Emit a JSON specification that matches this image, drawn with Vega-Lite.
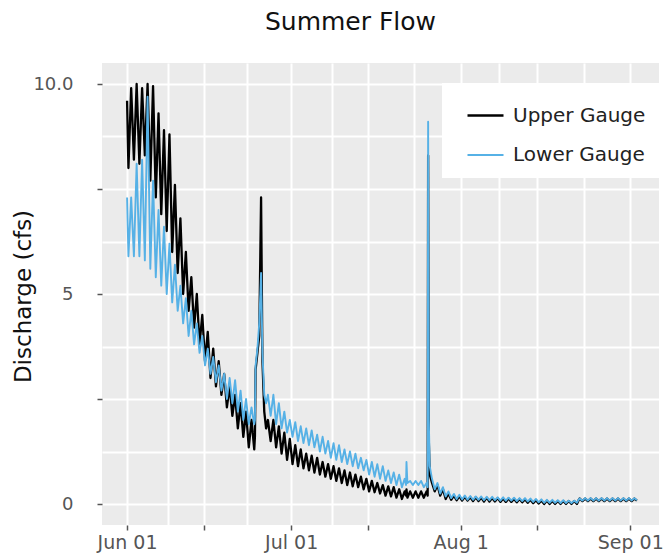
{
  "$schema": "https://vega.github.io/schema/vega-lite/v6.json",
  "width": 557,
  "height": 462,
  "autosize": {"type": "none"},
  "padding": {"left": 102, "top": 63, "right": 9, "bottom": 28},
  "background": "white",
  "config": {
    "view": {"fill": "#ebebeb", "stroke": null},
    "font": "DejaVu Sans"
  },
  "title": {
    "text": "Summer Flow",
    "fontSize": 25,
    "fontWeight": "normal",
    "color": "#111111",
    "anchor": "middle",
    "frame": "group",
    "dx": -30,
    "baseline": "alphabetic",
    "offset": 8
  },
  "data": {
    "values": [
      {"t": "2015-06-01T00:00", "u": 9.6, "l": 7.3},
      {"t": "2015-06-01T06:00", "u": 8.0, "l": 5.9},
      {"t": "2015-06-01T18:00", "u": 9.9, "l": 7.3},
      {"t": "2015-06-02T06:00", "u": 8.2, "l": 5.9},
      {"t": "2015-06-02T18:00", "u": 10.0, "l": 8.1},
      {"t": "2015-06-03T06:00", "u": 8.1, "l": 5.9},
      {"t": "2015-06-03T18:00", "u": 9.9, "l": 8.2},
      {"t": "2015-06-04T06:00", "u": 8.3, "l": 5.8},
      {"t": "2015-06-04T18:00", "u": 10.0, "l": 9.7},
      {"t": "2015-06-05T06:00", "u": 7.7, "l": 5.6},
      {"t": "2015-06-05T18:00", "u": 9.95, "l": 7.7},
      {"t": "2015-06-06T06:00", "u": 7.3, "l": 5.4},
      {"t": "2015-06-06T18:00", "u": 9.3, "l": 7.0},
      {"t": "2015-06-07T06:00", "u": 6.9, "l": 5.2},
      {"t": "2015-06-07T18:00", "u": 8.9, "l": 6.6},
      {"t": "2015-06-08T06:00", "u": 6.5, "l": 5.0},
      {"t": "2015-06-08T18:00", "u": 8.8, "l": 6.2},
      {"t": "2015-06-09T06:00", "u": 6.0, "l": 4.8},
      {"t": "2015-06-09T18:00", "u": 7.6, "l": 5.7},
      {"t": "2015-06-10T06:00", "u": 5.5, "l": 4.6},
      {"t": "2015-06-10T18:00", "u": 6.8, "l": 5.2},
      {"t": "2015-06-11T06:00", "u": 5.0, "l": 4.3},
      {"t": "2015-06-11T18:00", "u": 6.0, "l": 4.9},
      {"t": "2015-06-12T06:00", "u": 4.6, "l": 4.0},
      {"t": "2015-06-12T18:00", "u": 5.4, "l": 4.6},
      {"t": "2015-06-13T06:00", "u": 4.2, "l": 3.8},
      {"t": "2015-06-13T18:00", "u": 5.0, "l": 4.3},
      {"t": "2015-06-14T06:00", "u": 3.8, "l": 3.6},
      {"t": "2015-06-14T18:00", "u": 4.5, "l": 4.0},
      {"t": "2015-06-15T06:00", "u": 3.4, "l": 3.3},
      {"t": "2015-06-15T18:00", "u": 4.1, "l": 3.7},
      {"t": "2015-06-16T06:00", "u": 3.0, "l": 3.1},
      {"t": "2015-06-16T18:00", "u": 3.7, "l": 3.5},
      {"t": "2015-06-17T06:00", "u": 2.8, "l": 2.9},
      {"t": "2015-06-17T18:00", "u": 3.4, "l": 3.3},
      {"t": "2015-06-18T06:00", "u": 2.6, "l": 2.7},
      {"t": "2015-06-18T18:00", "u": 3.1, "l": 3.1},
      {"t": "2015-06-19T06:00", "u": 2.3, "l": 2.5},
      {"t": "2015-06-19T18:00", "u": 2.8, "l": 3.0},
      {"t": "2015-06-20T06:00", "u": 2.1, "l": 2.4},
      {"t": "2015-06-20T18:00", "u": 2.6, "l": 2.95},
      {"t": "2015-06-21T06:00", "u": 1.8, "l": 2.2},
      {"t": "2015-06-21T18:00", "u": 2.4, "l": 2.7},
      {"t": "2015-06-22T06:00", "u": 1.6, "l": 2.0},
      {"t": "2015-06-22T18:00", "u": 2.2, "l": 2.5},
      {"t": "2015-06-23T06:00", "u": 1.35, "l": 1.9},
      {"t": "2015-06-23T18:00", "u": 2.0, "l": 2.3},
      {"t": "2015-06-24T06:00", "u": 1.3, "l": 1.9},
      {"t": "2015-06-24T09:00", "u": 1.6, "l": 2.0},
      {"t": "2015-06-24T12:00", "u": 3.2, "l": 3.3},
      {"t": "2015-06-24T20:00", "u": 3.6, "l": 3.7},
      {"t": "2015-06-25T04:00", "u": 4.0, "l": 4.3},
      {"t": "2015-06-25T12:00", "u": 7.3, "l": 5.5},
      {"t": "2015-06-25T18:00", "u": 3.4, "l": 3.6},
      {"t": "2015-06-26T02:00", "u": 2.2, "l": 2.6},
      {"t": "2015-06-26T10:00", "u": 1.8, "l": 2.4},
      {"t": "2015-06-26T18:00", "u": 2.0, "l": 2.6},
      {"t": "2015-06-27T06:00", "u": 1.5, "l": 2.1},
      {"t": "2015-06-27T18:00", "u": 2.0, "l": 2.6},
      {"t": "2015-06-28T06:00", "u": 1.35, "l": 1.9},
      {"t": "2015-06-28T18:00", "u": 1.85, "l": 2.4},
      {"t": "2015-06-29T06:00", "u": 1.2, "l": 1.8},
      {"t": "2015-06-29T18:00", "u": 1.7, "l": 2.2},
      {"t": "2015-06-30T06:00", "u": 1.05, "l": 1.7},
      {"t": "2015-06-30T18:00", "u": 1.55, "l": 2.0},
      {"t": "2015-07-01T06:00", "u": 0.95, "l": 1.6},
      {"t": "2015-07-01T18:00", "u": 1.4, "l": 1.95},
      {"t": "2015-07-02T06:00", "u": 0.9, "l": 1.5},
      {"t": "2015-07-02T18:00", "u": 1.3, "l": 1.85},
      {"t": "2015-07-03T06:00", "u": 0.85, "l": 1.45},
      {"t": "2015-07-03T18:00", "u": 1.2, "l": 1.8},
      {"t": "2015-07-04T06:00", "u": 0.8, "l": 1.4},
      {"t": "2015-07-04T18:00", "u": 1.15, "l": 1.75},
      {"t": "2015-07-05T06:00", "u": 0.75, "l": 1.35},
      {"t": "2015-07-05T18:00", "u": 1.1, "l": 1.65},
      {"t": "2015-07-06T06:00", "u": 0.7, "l": 1.25},
      {"t": "2015-07-06T18:00", "u": 1.0, "l": 1.6},
      {"t": "2015-07-07T06:00", "u": 0.65, "l": 1.2},
      {"t": "2015-07-07T18:00", "u": 0.95, "l": 1.5},
      {"t": "2015-07-08T06:00", "u": 0.6, "l": 1.1},
      {"t": "2015-07-08T18:00", "u": 0.9, "l": 1.45},
      {"t": "2015-07-09T06:00", "u": 0.55, "l": 1.05},
      {"t": "2015-07-09T18:00", "u": 0.85, "l": 1.4},
      {"t": "2015-07-10T06:00", "u": 0.5, "l": 1.0},
      {"t": "2015-07-10T18:00", "u": 0.8, "l": 1.3},
      {"t": "2015-07-11T06:00", "u": 0.45, "l": 0.95},
      {"t": "2015-07-11T18:00", "u": 0.75, "l": 1.25},
      {"t": "2015-07-12T06:00", "u": 0.42, "l": 0.9},
      {"t": "2015-07-12T18:00", "u": 0.7, "l": 1.2},
      {"t": "2015-07-13T06:00", "u": 0.4, "l": 0.85},
      {"t": "2015-07-13T18:00", "u": 0.65, "l": 1.1},
      {"t": "2015-07-14T06:00", "u": 0.35, "l": 0.8},
      {"t": "2015-07-14T18:00", "u": 0.6, "l": 1.05},
      {"t": "2015-07-15T06:00", "u": 0.3, "l": 0.7},
      {"t": "2015-07-15T18:00", "u": 0.55, "l": 1.0},
      {"t": "2015-07-16T06:00", "u": 0.28, "l": 0.65},
      {"t": "2015-07-16T18:00", "u": 0.5, "l": 0.95},
      {"t": "2015-07-17T06:00", "u": 0.25, "l": 0.6},
      {"t": "2015-07-17T18:00", "u": 0.45, "l": 0.9},
      {"t": "2015-07-18T06:00", "u": 0.2, "l": 0.55},
      {"t": "2015-07-18T18:00", "u": 0.42, "l": 0.8},
      {"t": "2015-07-19T06:00", "u": 0.18, "l": 0.5},
      {"t": "2015-07-19T18:00", "u": 0.4, "l": 0.75},
      {"t": "2015-07-20T06:00", "u": 0.15, "l": 0.45},
      {"t": "2015-07-20T18:00", "u": 0.35, "l": 0.7},
      {"t": "2015-07-21T06:00", "u": 0.12, "l": 0.4},
      {"t": "2015-07-21T18:00", "u": 0.3, "l": 0.6},
      {"t": "2015-07-22T00:00", "u": 0.2, "l": 0.45},
      {"t": "2015-07-22T02:00", "u": 0.35, "l": 1.0},
      {"t": "2015-07-22T06:00", "u": 0.15, "l": 0.5},
      {"t": "2015-07-22T18:00", "u": 0.3, "l": 0.55},
      {"t": "2015-07-23T06:00", "u": 0.15, "l": 0.45},
      {"t": "2015-07-23T18:00", "u": 0.3, "l": 0.55},
      {"t": "2015-07-24T06:00", "u": 0.15, "l": 0.45},
      {"t": "2015-07-24T18:00", "u": 0.3, "l": 0.55},
      {"t": "2015-07-25T06:00", "u": 0.15, "l": 0.4},
      {"t": "2015-07-25T18:00", "u": 0.3, "l": 0.5},
      {"t": "2015-07-25T23:00", "u": 0.2, "l": 0.4},
      {"t": "2015-07-26T01:00", "u": 8.3, "l": 9.1},
      {"t": "2015-07-26T04:00", "u": 1.5, "l": 2.0},
      {"t": "2015-07-26T08:00", "u": 0.7, "l": 0.9},
      {"t": "2015-07-26T18:00", "u": 0.5, "l": 0.6},
      {"t": "2015-07-27T06:00", "u": 0.3, "l": 0.35},
      {"t": "2015-07-27T18:00", "u": 0.45, "l": 0.5},
      {"t": "2015-07-28T06:00", "u": 0.2, "l": 0.25},
      {"t": "2015-07-28T18:00", "u": 0.35, "l": 0.4},
      {"t": "2015-07-29T06:00", "u": 0.12, "l": 0.18},
      {"t": "2015-07-29T18:00", "u": 0.25, "l": 0.3},
      {"t": "2015-07-30T06:00", "u": 0.1, "l": 0.14},
      {"t": "2015-07-30T18:00", "u": 0.2, "l": 0.24},
      {"t": "2015-07-31T06:00", "u": 0.09, "l": 0.12},
      {"t": "2015-07-31T18:00", "u": 0.18, "l": 0.22},
      {"t": "2015-08-01T06:00", "u": 0.08, "l": 0.11},
      {"t": "2015-08-01T18:00", "u": 0.17, "l": 0.2},
      {"t": "2015-08-02T06:00", "u": 0.08, "l": 0.1},
      {"t": "2015-08-02T18:00", "u": 0.16, "l": 0.19},
      {"t": "2015-08-03T06:00", "u": 0.07, "l": 0.1},
      {"t": "2015-08-03T18:00", "u": 0.16, "l": 0.18},
      {"t": "2015-08-04T06:00", "u": 0.07, "l": 0.1},
      {"t": "2015-08-04T18:00", "u": 0.15, "l": 0.18},
      {"t": "2015-08-05T06:00", "u": 0.06, "l": 0.09},
      {"t": "2015-08-05T18:00", "u": 0.15, "l": 0.17},
      {"t": "2015-08-06T06:00", "u": 0.06, "l": 0.09},
      {"t": "2015-08-06T18:00", "u": 0.14, "l": 0.17},
      {"t": "2015-08-07T06:00", "u": 0.06, "l": 0.09},
      {"t": "2015-08-07T18:00", "u": 0.14, "l": 0.16},
      {"t": "2015-08-08T06:00", "u": 0.05, "l": 0.08},
      {"t": "2015-08-08T18:00", "u": 0.13, "l": 0.16},
      {"t": "2015-08-09T06:00", "u": 0.05, "l": 0.08},
      {"t": "2015-08-09T18:00", "u": 0.13, "l": 0.15},
      {"t": "2015-08-10T06:00", "u": 0.05, "l": 0.08},
      {"t": "2015-08-10T18:00", "u": 0.12, "l": 0.15},
      {"t": "2015-08-11T06:00", "u": 0.04, "l": 0.07},
      {"t": "2015-08-11T18:00", "u": 0.12, "l": 0.14},
      {"t": "2015-08-12T06:00", "u": 0.04, "l": 0.07},
      {"t": "2015-08-12T18:00", "u": 0.11, "l": 0.14},
      {"t": "2015-08-13T06:00", "u": 0.03, "l": 0.06},
      {"t": "2015-08-13T18:00", "u": 0.1, "l": 0.13},
      {"t": "2015-08-14T06:00", "u": 0.02, "l": 0.05},
      {"t": "2015-08-14T18:00", "u": 0.09, "l": 0.12},
      {"t": "2015-08-15T06:00", "u": 0.01, "l": 0.04},
      {"t": "2015-08-15T18:00", "u": 0.08, "l": 0.11},
      {"t": "2015-08-16T06:00", "u": 0.0, "l": 0.03},
      {"t": "2015-08-16T18:00", "u": 0.08, "l": 0.1},
      {"t": "2015-08-17T06:00", "u": 0.0, "l": 0.03},
      {"t": "2015-08-17T18:00", "u": 0.07, "l": 0.1},
      {"t": "2015-08-18T06:00", "u": 0.0, "l": 0.03},
      {"t": "2015-08-18T18:00", "u": 0.07, "l": 0.09},
      {"t": "2015-08-19T06:00", "u": 0.0, "l": 0.02},
      {"t": "2015-08-19T18:00", "u": 0.07, "l": 0.09},
      {"t": "2015-08-20T06:00", "u": 0.0, "l": 0.02},
      {"t": "2015-08-20T18:00", "u": 0.07, "l": 0.08},
      {"t": "2015-08-21T06:00", "u": 0.0, "l": 0.02},
      {"t": "2015-08-21T18:00", "u": 0.07, "l": 0.08},
      {"t": "2015-08-22T06:00", "u": 0.0, "l": 0.03},
      {"t": "2015-08-22T14:00", "u": 0.1, "l": 0.11},
      {"t": "2015-08-22T18:00", "u": 0.13, "l": 0.13},
      {"t": "2015-08-23T06:00", "u": 0.07, "l": 0.08},
      {"t": "2015-08-23T18:00", "u": 0.13, "l": 0.14},
      {"t": "2015-08-24T06:00", "u": 0.07, "l": 0.08},
      {"t": "2015-08-24T18:00", "u": 0.13, "l": 0.14},
      {"t": "2015-08-25T06:00", "u": 0.07, "l": 0.08},
      {"t": "2015-08-25T18:00", "u": 0.13, "l": 0.14},
      {"t": "2015-08-26T06:00", "u": 0.07, "l": 0.08},
      {"t": "2015-08-26T18:00", "u": 0.13, "l": 0.14},
      {"t": "2015-08-27T06:00", "u": 0.07, "l": 0.08},
      {"t": "2015-08-27T18:00", "u": 0.13, "l": 0.14},
      {"t": "2015-08-28T06:00", "u": 0.07, "l": 0.08},
      {"t": "2015-08-28T18:00", "u": 0.13, "l": 0.14},
      {"t": "2015-08-29T06:00", "u": 0.07, "l": 0.08},
      {"t": "2015-08-29T18:00", "u": 0.13, "l": 0.14},
      {"t": "2015-08-30T06:00", "u": 0.07, "l": 0.08},
      {"t": "2015-08-30T18:00", "u": 0.13, "l": 0.14},
      {"t": "2015-08-31T06:00", "u": 0.07, "l": 0.08},
      {"t": "2015-08-31T18:00", "u": 0.13, "l": 0.14},
      {"t": "2015-09-01T06:00", "u": 0.07, "l": 0.08},
      {"t": "2015-09-01T18:00", "u": 0.13, "l": 0.14},
      {"t": "2015-09-02T05:00", "u": 0.08, "l": 0.09}
    ]
  },
  "transform": [{"fold": ["u", "l"], "as": ["k", "q"]}],
  "mark": {"type": "line", "strokeJoin": "round"},
  "encoding": {
    "x": {
      "field": "t",
      "type": "temporal",
      "scale": {
        "domain": [
          {"year": 2015, "month": "May", "date": 27, "hours": 10},
          {"year": 2015, "month": "Sep", "date": 6, "hours": 6}
        ]
      },
      "axis": {
        "title": null,
        "values": [
          {"year": 2015, "month": "Jun", "date": 1},
          {"year": 2015, "month": "Jun", "date": 8, "hours": 12},
          {"year": 2015, "month": "Jun", "date": 15},
          {"year": 2015, "month": "Jun", "date": 23},
          {"year": 2015, "month": "Jul", "date": 1},
          {"year": 2015, "month": "Jul", "date": 8, "hours": 12},
          {"year": 2015, "month": "Jul", "date": 15},
          {"year": 2015, "month": "Jul", "date": 23, "hours": 12},
          {"year": 2015, "month": "Aug", "date": 1},
          {"year": 2015, "month": "Aug", "date": 8},
          {"year": 2015, "month": "Aug", "date": 15},
          {"year": 2015, "month": "Aug", "date": 23, "hours": 12},
          {"year": 2015, "month": "Sep", "date": 1}
        ],
        "labelExpr": "date(datum.value) == 1 ? (month(datum.value) == 7 ? 'Aug 1' : timeFormat(datum.value, '%b %d')) : ''",
        "labelOverlap": false,
        "labelFlush": false,
        "labelFontSize": 19,
        "labelColor": "#555555",
        "labelPadding": 3,
        "domain": false,
        "grid": true,
        "gridColor": "#ffffff",
        "gridWidth": 2,
        "tickColor": "#555555",
        "tickSize": 5,
        "tickWidth": 1.5,
        "tickOpacity": {"condition": {"test": "date(datum.value) == 1 || date(datum.value) == 15", "value": 1}, "value": 0}
      }
    },
    "y": {
      "field": "q",
      "type": "quantitative",
      "scale": {"domain": [-0.5, 10.5], "nice": false, "zero": false},
      "axis": {
        "title": "Discharge (cfs)",
        "titleFontSize": 23,
        "titleFontWeight": "normal",
        "titleColor": "#111111",
        "titleX": -79,
        "titleY": 233,
        "titleBaseline": "middle",
        "values": [0, 1.25, 2.5, 3.75, 5, 6.25, 7.5, 8.75, 10],
        "labelExpr": "datum.value == 10 ? '10.0' : (datum.value == 0 || datum.value == 5) ? datum.label : ''",
        "labelOverlap": false,
        "labelFontSize": 18,
        "labelColor": "#555555",
        "labelPadding": 24,
        "domain": false,
        "grid": true,
        "gridColor": "#ffffff",
        "gridWidth": 2,
        "tickColor": "#555555",
        "tickSize": 5,
        "tickWidth": 1.5,
        "tickOpacity": {"condition": {"test": "datum.value == 0 || datum.value == 2.5 || datum.value == 5 || datum.value == 7.5 || datum.value == 10", "value": 1}, "value": 0}
      }
    },
    "color": {
      "field": "k",
      "type": "nominal",
      "scale": {"domain": ["u", "l"], "range": ["#000000", "#56b1e6"]},
      "legend": {
        "title": null,
        "orient": "none",
        "legendX": 340,
        "legendY": 20,
        "fillColor": "#ffffff",
        "padding": 13,
        "symbolType": "stroke",
        "symbolSize": 1296,
        "symbolStrokeWidth": 2,
        "symbolOffset": 11,
        "labelOffset": 8,
        "rowPadding": 10,
        "labelFontSize": 20,
        "labelColor": "#222222",
        "labelLimit": 300,
        "labelExpr": "datum.label == 'u' ? 'Upper Gauge' : 'Lower Gauge'"
      }
    },
    "strokeWidth": {
      "field": "k",
      "type": "nominal",
      "scale": {"domain": ["u", "l"], "range": [2.3, 1.9]},
      "legend": null
    }
  }
}
